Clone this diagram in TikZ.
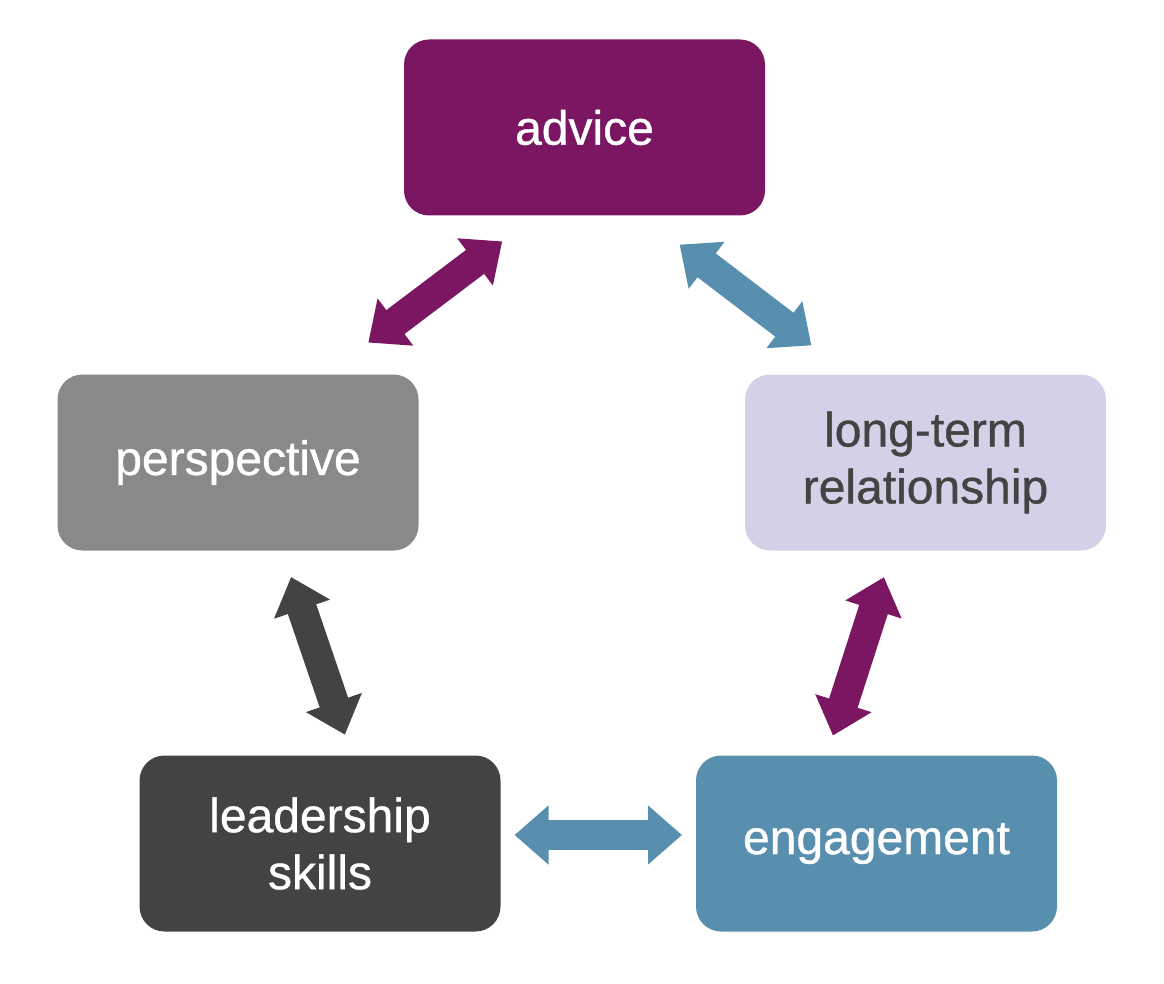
\documentclass[tikz,border=0pt]{standalone}
\usepackage{fontspec}
\setmainfont{Liberation Sans}
\newfontfamily\boxfont[FakeBold=0.8]{Liberation Sans}
\usetikzlibrary{arrows.meta}

\definecolor{advpurple}{RGB}{123,23,98}
\definecolor{perspgray}{RGB}{137,137,137}
\definecolor{longlav}{RGB}{214,207,232}
\definecolor{leaddark}{RGB}{67,67,67}
\definecolor{engblue}{RGB}{88,143,174}

\begin{document}
\begin{tikzpicture}[x=1pt,y=-1pt,
    box/.style={rounded corners=25pt, minimum width=361pt, minimum height=176pt,
        inner sep=0pt, outer sep=0pt, align=center, text=white,
        font=\boxfont\fontsize{48}{57}\selectfont},
    twoway/.style={line width=30pt,
        {Triangle[width=57pt,length=34pt]}-{Triangle[width=57pt,length=34pt]}}]
    \useasboundingbox (0,0) rectangle (1164,984);
    %% boxes
    \node[box, fill=advpurple] (adv) at (584.5,127.5) {advice};
    \node[box, fill=perspgray] (persp) at (238,462.5) {perspective};
    \node[box, fill=longlav, text=leaddark] (long) at (925.5,462.5) {long-term\\relationship};
    \node[box, fill=leaddark] (lead) at (320,843.5) {leadership\\skills};
    \node[box, fill=engblue] (eng) at (876.5,843.5) {engagement};
    %% arrows
    \draw[twoway, draw=advpurple, shorten <=43pt, shorten >=53pt]
        ([xshift=-48pt]adv.south) -- ([xshift=88pt]persp.north);
    %
    \draw[twoway, draw=engblue, shorten <=48pt, shorten >=48pt]
        ([xshift=57pt]adv.south) -- ([xshift=-76pt]long.north);
    %
    \draw[twoway, draw=leaddark, shorten <=28pt, shorten >=22pt]
        ([xshift=44pt]persp.south) -- ([xshift=32pt]lead.north);
    %
    \draw[twoway, draw=advpurple, shorten <=28pt, shorten >=21pt]
        ([xshift=-33pt]long.south) -- ([xshift=-50pt]eng.north);
    %
    \draw[twoway, draw=engblue, shorten <=14pt, shorten >=14pt]
        ([yshift=8.5pt]lead.east) -- ([yshift=8.5pt]eng.west);
\end{tikzpicture}
\end{document}
